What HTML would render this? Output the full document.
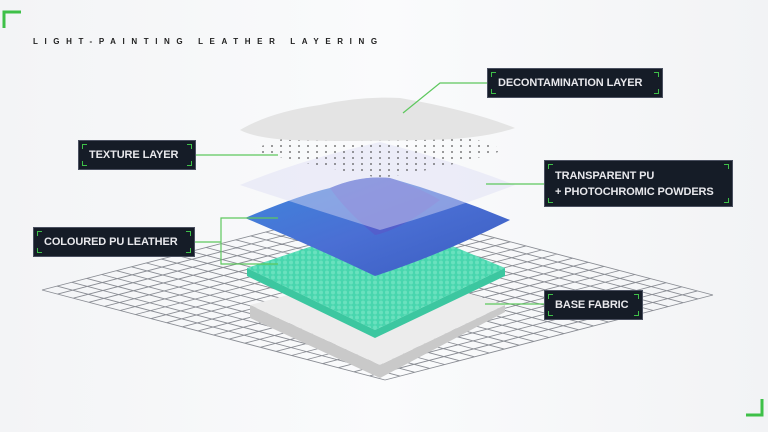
<!DOCTYPE html>
<html><head><meta charset="utf-8"><style>
body{margin:0;width:768px;height:432px;overflow:hidden;background:linear-gradient(90deg,#f3f4f6,#fafbfc 50%,#f2f3f5);font-family:"Liberation Sans",sans-serif;position:relative}
.t{position:absolute;left:33px;top:37px;font-size:8px;font-weight:bold;letter-spacing:6.6px;color:#222;white-space:nowrap}
.lb{position:absolute;background:#151c27;color:#e8e8ec;font-weight:bold;font-size:11px;letter-spacing:-0.1px;line-height:16px;padding:0 10px;display:flex;flex-direction:column;justify-content:center;box-sizing:border-box;border:1px solid #4a5060;white-space:nowrap}
.lb i{position:absolute;width:4px;height:4px;border-color:#3ec048;border-style:solid;border-width:0}
.a{left:3px;top:3px;border-left-width:1.5px!important;border-top-width:1.5px!important}
.b{right:3px;top:3px;border-right-width:1.5px!important;border-top-width:1.5px!important}
.c{left:3px;bottom:3px;border-left-width:1.5px!important;border-bottom-width:1.5px!important}
.d{right:3px;bottom:3px;border-right-width:1.5px!important;border-bottom-width:1.5px!important}
</style></head><body>
<svg width="768" height="432" style="position:absolute;left:0;top:0">
<defs>
<linearGradient id="bl" x1="0" y1="0" x2="1" y2="1"><stop offset="0" stop-color="#3f86dc"/><stop offset=".5" stop-color="#4a6fd4"/><stop offset="1" stop-color="#3a5cc0"/></linearGradient>
<pattern id="dt" width="9" height="6" patternUnits="userSpaceOnUse"><circle cx="2" cy="2" r="1" fill="#444"/></pattern>
<pattern id="gd" width="6" height="5" patternUnits="userSpaceOnUse"><circle cx="3" cy="2.5" r="2" fill="#7fe8c8"/></pattern>
</defs>
<path d="M4 28V12H21" stroke="#3ec048" stroke-width="3" fill="none"/>
<path d="M746 415H762V399" stroke="#3ec048" stroke-width="3" fill="none"/>
<g id="grid" stroke="#8a8d94" stroke-width="0.9"></g>
<path d="M250 305L380 365L505 305L505 312L380 378L250 318Z" fill="#c9c9c9"/>
<path d="M250 305L390 268L505 305L380 365Z" fill="#ececec"/>
<path d="M247 268L375 330L505 268L505 276L375 338L247 276Z" fill="#3cc7a0"/>
<path d="M247 268L390 220L505 268L375 330Z" fill="#48d6ae"/>
<path d="M247 268L390 220L505 268L375 330Z" fill="url(#gd)" opacity=".6"/>
<path d="M245 218Q300 195 330 188Q360 175 390 178Q450 195 510 220Q440 255 375 276Q310 245 245 218Z" fill="url(#bl)"/>
<path d="M330 188Q360 175 390 178Q420 188 440 200Q400 230 375 235Q345 210 330 188Z" fill="#5a55c8" opacity=".6"/>
<path d="M240 185Q300 160 380 142Q450 160 515 185Q450 210 380 230Q310 208 240 185Z" fill="#dcdcf4" opacity=".45"/>
<path d="M250 150Q320 125 380 112Q440 125 505 150Q440 170 380 178Q310 165 250 150Z" fill="url(#dt)" opacity=".7"/>
<path d="M240 130Q270 112 320 105Q360 96 400 98Q470 110 515 128Q480 140 420 140Q350 142 290 140Q255 138 240 130Z" fill="#e4e4e4"/>
<g stroke="#5ec85e" stroke-width="1.2" fill="none">
<path d="M487 83H440L403 113"/>
<path d="M196 155H278"/>
<path d="M544 184H486"/>
<path d="M195 242H221M278 218H221V264H278"/>
<path d="M544 304H485"/>
</g>
</svg>
<div class="t">LIGHT-PAINTING LEATHER LAYERING</div>
<div class="lb" style="left:487px;top:68px;width:176px;height:30px"><i class="a"></i><i class="b"></i><i class="c"></i><i class="d"></i>DECONTAMINATION LAYER</div>
<div class="lb" style="left:78px;top:140px;width:118px;height:30px"><i class="a"></i><i class="b"></i><i class="c"></i><i class="d"></i>TEXTURE LAYER</div>
<div class="lb" style="left:544px;top:160px;width:189px;height:47px"><i class="a"></i><i class="b"></i><i class="c"></i><i class="d"></i>TRANSPARENT PU<br>+ PHOTOCHROMIC POWDERS</div>
<div class="lb" style="left:33px;top:227px;width:162px;height:30px"><i class="a"></i><i class="b"></i><i class="c"></i><i class="d"></i>COLOURED PU LEATHER</div>
<div class="lb" style="left:544px;top:290px;width:99px;height:30px"><i class="a"></i><i class="b"></i><i class="c"></i><i class="d"></i>BASE FABRIC</div>
<script>
var g=document.getElementById('grid'),L=[42,290],u=[343,90],v=[328,-85],n=22,s='';
function p(a,b){return (L[0]+a*u[0]+b*v[0]).toFixed(1)+' '+(L[1]+a*u[1]+b*v[1]).toFixed(1)}
for(var i=0;i<=n;i++){var t=i/n;s+='M'+p(t,0)+'L'+p(t,1)+'M'+p(0,t)+'L'+p(1,t);}
var e=document.createElementNS('http://www.w3.org/2000/svg','path');e.setAttribute('d',s);e.setAttribute('fill','none');g.appendChild(e);
</script>
</body></html>
